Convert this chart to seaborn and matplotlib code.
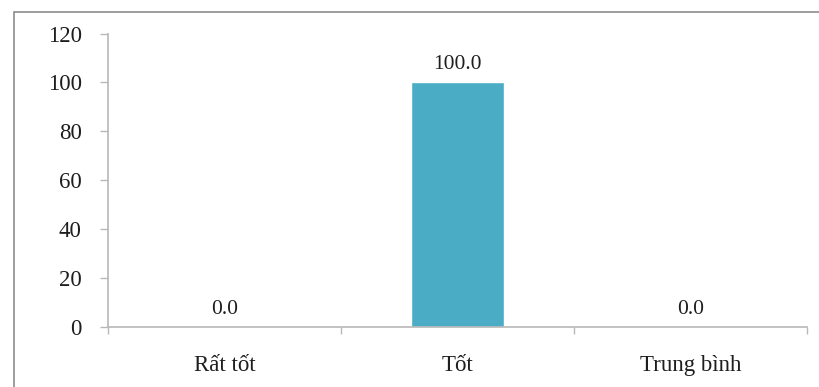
import matplotlib
matplotlib.use("Agg")
import matplotlib.pyplot as plt
from matplotlib.patches import Rectangle
import seaborn as sns
import pandas as pd

categories = ["Rất tốt", "Tốt", "Trung bình"]
values = [0.0, 100.0, 0.0]
y_ticks = [0, 20, 40, 60, 80, 100, 120]

sns.set_theme(style="white")
plt.rcParams["font.family"] = ["Liberation Serif", "DejaVu Serif"]

W, H = 819, 387
fig = plt.figure(figsize=(W / 100, H / 100), dpi=100)

# outer chart frame (only left/top edges fall inside the canvas)
fig.patches.append(Rectangle((13.5 / W, -0.1), 1.2, 1.1 - 12.5 / H,
                             transform=fig.transFigure, fill=False,
                             edgecolor="#8c8c8c", linewidth=1.2))

ax = fig.add_axes([108 / W, (H - 327) / H, (807 - 108) / W, (327 - 33.5) / H])

df = pd.DataFrame({"cat": categories, "val": values})
sns.barplot(data=df, x="cat", y="val", color="#4BACC6", width=0.4,
            saturation=1, ax=ax)

ax.set_xlim(-0.5, 2.5)
ax.set_ylim(0, 120)
ax.set_yticks(y_ticks)
ax.set_xlabel("")
ax.set_ylabel("")

text_color = "#1e1e1e"
for i, v in enumerate(values):
    ax.annotate(f"{v:.1f}", (i, v), xytext=(0, 6), textcoords="offset points",
                ha="center", va="bottom", fontsize=15.5, color=text_color)

axis_color = "#b8b8b8"
for side in ["top", "right"]:
    ax.spines[side].set_visible(False)
for side in ["left", "bottom"]:
    ax.spines[side].set_color(axis_color)
    ax.spines[side].set_linewidth(1.2)

ax.tick_params(axis="y", left=True, length=6, width=1, color=axis_color,
               pad=13, labelsize=16.5, labelcolor=text_color)
ax.tick_params(axis="x", which="major", bottom=False, pad=14,
               labelsize=16.5, labelcolor=text_color)
ax.set_xticks([-0.5, 0.5, 1.5, 2.5], minor=True)
ax.tick_params(axis="x", which="minor", bottom=True, length=5, width=1,
               color=axis_color, direction="out")

fig.savefig("out.png", dpi=100, facecolor="white")
